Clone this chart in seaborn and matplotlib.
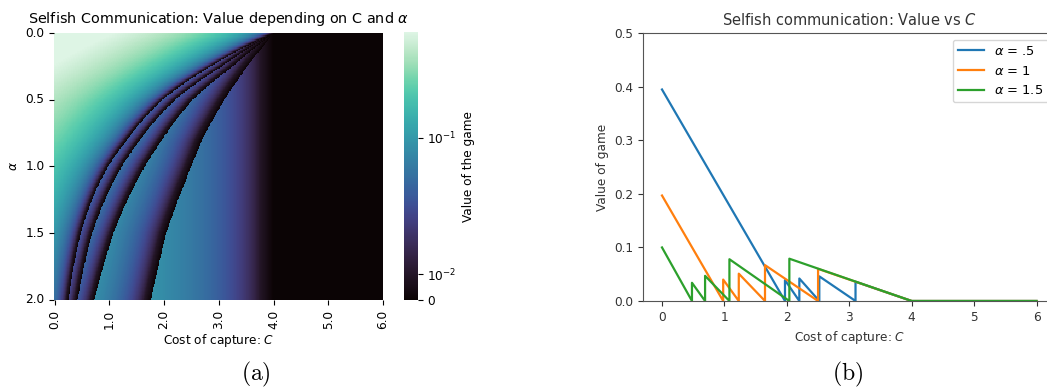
import numpy as np
import pandas as pd
import matplotlib
matplotlib.use("Agg")
import matplotlib.pyplot as plt
from matplotlib.colors import SymLogNorm
import seaborn as sns

# --- (b) value of the game vs C, breakpoints ---
c_a05 = [0, 1.97, 1.97, 2.2, 2.2, 2.52, 2.52, 3.1, 3.1, 4.0, 6.0]
v_a05 = [0.395, 0, 0.039, 0, 0.042, 0, 0.046, 0, 0.036, 0, 0]
c_a10 = [0, 0.98, 0.98, 1.23, 1.23, 1.65, 1.65, 2.5, 2.5, 4.0, 6.0]
v_a10 = [0.197, 0, 0.040, 0, 0.051, 0, 0.067, 0, 0.060, 0, 0]
c_a15 = [0, 0.48, 0.48, 0.69, 0.69, 1.08, 1.08, 2.04, 2.04, 4.0, 6.0]
v_a15 = [0.100, 0, 0.034, 0, 0.047, 0, 0.078, 0, 0.079, 0, 0]
line_labels = [r"$\alpha$ = .5", r"$\alpha$ = 1", r"$\alpha$ = 1.5"]

# --- (a) heatmap: band edges (C where value jumps) at sampled alpha rows ---
edge_alpha = [0.0, 0.25, 0.5, 0.8, 1.0, 1.5, 2.0]
edge1 = [4.0, 2.85, 1.97, 1.32, 0.98, 0.48, 0.255]
edge2 = [4.0, 3.05, 2.2, 1.56, 1.23, 0.69, 0.42]
edge3 = [4.0, 3.25, 2.52, 1.96, 1.65, 1.08, 0.73]
edge4 = [4.0, 3.52, 3.1, 2.69, 2.5, 2.04, 1.76]
edge5 = [4.0, 4.0, 4.0, 4.0, 4.0, 4.0, 4.0]
band_slope = [0.2, 0.16, 0.12, 0.08, 0.04]   # drop of value per unit C in each band
cbar_max = 0.59

c_grid = np.round(np.arange(0, 6.001, 0.01), 2)
a_grid = np.round(np.arange(0, 2.001, 0.01), 2)

edges = [edge1, edge2, edge3, edge4, edge5]
V = np.zeros((len(a_grid), len(c_grid)))
for i, a in enumerate(a_grid):
    row_edges = [np.exp(np.interp(a, edge_alpha, np.log(e))) for e in edges]
    lo = 0.0
    for k, hi in enumerate(row_edges):
        m = (c_grid >= lo) & (c_grid < hi)
        V[i, m] = band_slope[k] * (hi - c_grid[m])
        lo = hi

heat = pd.DataFrame(V, index=[f"{a:.1f}" for a in a_grid],
                    columns=[f"{c:.1f}" for c in c_grid])

fig = plt.figure(figsize=(10.47, 3.91), dpi=100)

# ===== (a) heatmap =====
ax1 = fig.add_axes([0.0519, 0.2320, 0.3142, 0.6844])
cax = fig.add_axes([0.3862, 0.2320, 0.0128, 0.6854])
sns.heatmap(heat, ax=ax1, cbar_ax=cax, cmap="mako",
            norm=SymLogNorm(linthresh=0.01, linscale=0.17, vmin=0, vmax=cbar_max),
            xticklabels=100, yticklabels=50, rasterized=True,
            cbar_kws={"label": "Value of the game"})
ax1.tick_params(labelsize=8.7)
plt.setp(ax1.get_xticklabels(), rotation=90)
plt.setp(ax1.get_yticklabels(), rotation=0)
ax1.set_xlabel("Cost of capture: $C$", fontsize=8.7, labelpad=2)
ax1.set_ylabel(r"$\alpha$", fontsize=8.7)
ax1.set_title(r"Selfish Communication: Value depending on C and $\alpha$",
              fontsize=10.4, pad=7)
cax.tick_params(labelsize=8.7)
cax.yaxis.label.set_size(8.7)

# ===== (b) line chart =====
ax2 = fig.add_axes([0.6144, 0.2302, 0.3935, 0.6847])
colors = sns.color_palette("tab10", 3)
for cs, vs, lab, col in zip([c_a05, c_a10, c_a15], [v_a05, v_a10, v_a15],
                            line_labels, colors):
    sns.lineplot(x=cs, y=vs, sort=False, estimator=None, ax=ax2,
                 color=col, linewidth=1.6, label=lab)
ax2.set_xlim(-0.3, 6.3)
ax2.set_ylim(0, 0.5)
ax2.set_xticks(range(7))
ax2.tick_params(labelsize=8.7, colors="#333333")
ax2.set_xlabel("Cost of capture: $C$", fontsize=8.7, color="#333333")
ax2.set_ylabel("Value of game", fontsize=8.7, color="#333333")
ax2.set_title("Selfish communication: Value vs $C$", fontsize=10.5, color="#333333")
for s in ax2.spines.values():
    s.set_color("#555555")
ax2.legend(loc="upper right", fontsize=9.4)

fig.text(0.2445, 0.043, r"$\mathrm{(a)}$", fontsize=17, ha="center", va="center",
         math_fontfamily="cm")
fig.text(0.8095, 0.043, r"$\mathrm{(b)}$", fontsize=17, ha="center", va="center",
         math_fontfamily="cm")

fig.savefig("out.png", dpi=100)
